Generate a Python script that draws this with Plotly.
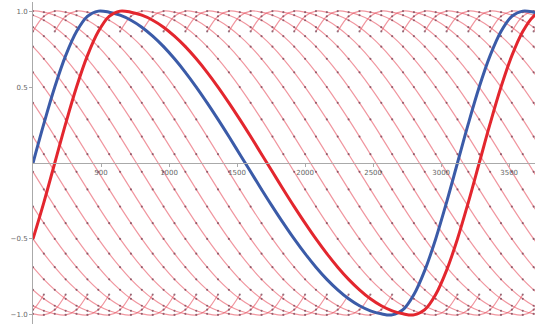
import plotly.graph_objects as go

sample_step = 80
wave = [0.0, 0.259, 0.5, 0.707, 0.866, 0.966, 1.0,
        0.993, 0.973, 0.940, 0.894, 0.835, 0.766, 0.686, 0.597, 0.500,
        0.396, 0.287, 0.174, 0.058, -0.058, -0.174, -0.287, -0.396, -0.500,
        -0.597, -0.686, -0.766, -0.835, -0.894, -0.940, -0.973, -0.993, -1.0,
        -0.966, -0.866, -0.707, -0.5, -0.259]
shift_samples = 2            # each curve of the family is delayed by 160 units
family_k = list(range(-18, 22))
n_samples = 48               # 0 .. 3760
x_ticks = [500, 1000, 1500, 2000, 2500, 3000, 3500]
x_labels = ["500", "1000", "1500", "2000", "2500", "3000", "3500"]
y_ticks = [-1.0, -0.5, 0.5, 1.0]
y_labels = ["\u22121.0", "\u22120.5", "0.5", "1.0"]

P = len(wave)

def curve(k, i):
    return wave[(i - shift_samples * k) % P]

# family of thin curves: falling part of each shifted copy with a little of the rises
fx, fy = [], []
for k in family_k:
    for p in range(4, 36):
        i = p + shift_samples * k
        fx.append(i * sample_step)
        fy.append(wave[p])
    fx.append(None)
    fy.append(None)

ts = [i * sample_step for i in range(n_samples)]
blue = [curve(0, i) for i in range(n_samples)]
red = [curve(1, i) for i in range(n_samples)]

fig = go.Figure()
fig.add_trace(go.Scatter(x=fx, y=fy, mode="lines+markers",
                         line=dict(color="rgba(230,80,95,0.6)", width=1.2, shape="spline"),
                         marker=dict(size=2.2, color="rgba(90,40,60,0.6)"),
                         hoverinfo="skip"))
fig.add_trace(go.Scatter(x=ts, y=blue, mode="lines",
                         line=dict(color="#3b5ba8", width=3, shape="spline")))
fig.add_trace(go.Scatter(x=ts, y=red, mode="lines",
                         line=dict(color="#e3262e", width=3, shape="spline")))

fig.update_layout(
    width=535, height=327,
    margin=dict(l=33, r=0, t=2, b=3),
    paper_bgcolor="white", plot_bgcolor="white",
    showlegend=False,
    xaxis=dict(range=[0, 3690], anchor="free", position=0.5,
               showline=True, linecolor="#aaaaaa", linewidth=1,
               ticks="outside", ticklen=3, tickcolor="#aaaaaa",
               tickvals=x_ticks, ticktext=x_labels,
               tickfont=dict(family="DejaVu Sans", size=7, color="#666666"),
               showgrid=False, zeroline=False),
    yaxis=dict(range=[-1.06, 1.06],
               showline=True, linecolor="#aaaaaa", linewidth=1,
               ticks="outside", ticklen=3, tickcolor="#aaaaaa",
               tickvals=y_ticks, ticktext=y_labels,
               tickfont=dict(family="DejaVu Sans", size=7, color="#666666"),
               showgrid=False, zeroline=False),
)
fig.write_html("out.html")
